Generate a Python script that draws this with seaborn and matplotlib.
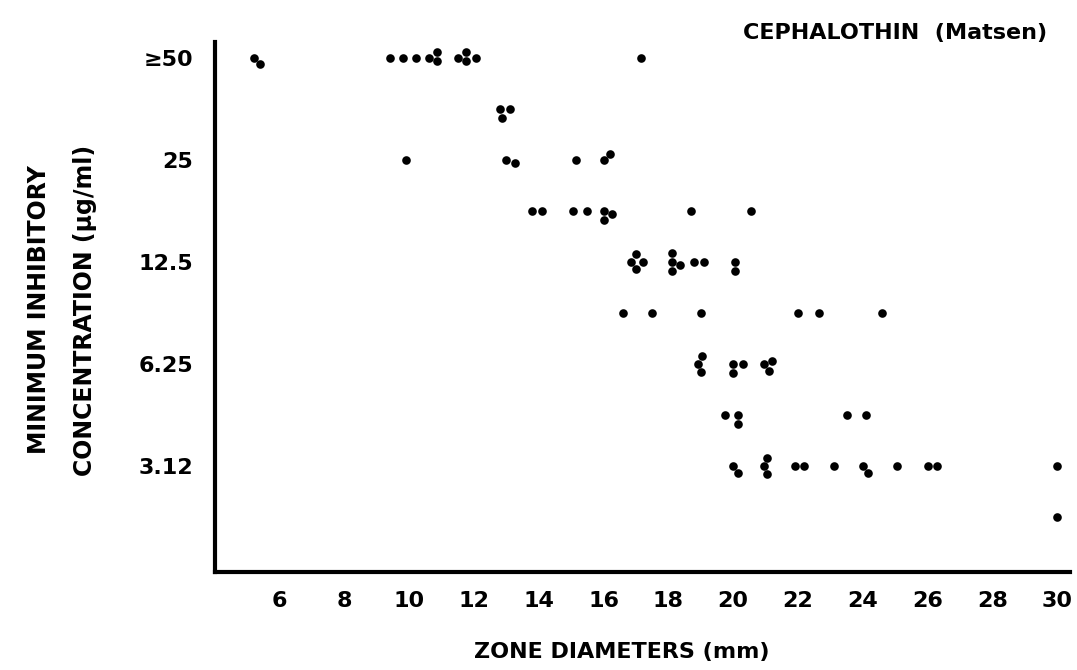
import numpy as np
import pandas as pd
import matplotlib
matplotlib.use("Agg")
import matplotlib.pyplot as plt
import seaborn as sns

# MIC rows (dilution steps, top = highest); only every other row is labelled
row_labels = ["≥50", "", "25", "", "12.5", "", "6.25", "", "3.12", ""]

# zone diameters (mm) of the isolates in each MIC row
zone_r0 = [5.2, 5.4, 9.4, 9.8, 10.2, 10.6, 10.85, 10.85, 11.5, 11.75, 11.75, 12.05, 17.15]
zone_r1 = [12.8, 12.85, 13.1]
zone_r2 = [9.9, 13.0, 13.25, 15.15, 16.0, 16.2]
zone_r3 = [13.8, 14.1, 15.05, 15.5, 16.0, 16.0, 16.25, 18.7, 20.55]
zone_r4 = [16.85, 17.0, 17.0, 17.2, 18.1, 18.1, 18.1, 18.35, 18.8, 19.1, 20.05, 20.05]
zone_r5 = [16.6, 17.5, 19.0, 22.0, 22.65, 24.6]
zone_r6 = [18.9, 19.0, 19.05, 20.0, 20.0, 20.3, 20.95, 21.1, 21.2]
zone_r7 = [19.75, 20.15, 20.15, 23.5, 24.1]
zone_r8 = [20.0, 20.15, 20.95, 21.05, 21.05, 21.9, 22.2, 23.1, 24.0, 24.15, 25.05, 26.0, 26.3, 30.0]
zone_r9 = [30.0]

x_ticks = [6, 8, 10, 12, 14, 16, 18, 20, 22, 24, 26, 28, 30]

title_text = "CEPHALOTHIN  (Matsen)"
x_title = "ZONE DIAMETERS (mm)"
y_title = "MINIMUM INHIBITORY\nCONCENTRATION (µg/ml)"

rows = [zone_r0, zone_r1, zone_r2, zone_r3, zone_r4, zone_r5, zone_r6, zone_r7, zone_r8, zone_r9]
df = pd.DataFrame({
    "zone": [z for r in rows for z in r],
    "row": [i for i, r in enumerate(rows) for _ in r],
})

sns.set_theme(style="white")
plt.rcParams["font.family"] = ["DejaVu Sans"]
plt.rcParams["font.weight"] = "bold"
for key in ["text.color", "axes.labelcolor", "xtick.color", "ytick.color"]:
    plt.rcParams[key] = "black"

fig = plt.figure(figsize=(10.77, 6.70), dpi=100)
ax = fig.add_axes([215 / 1077, 1 - 572 / 670, (1070 - 215) / 1077, (572 - 42) / 670])

sns.swarmplot(data=df, x="zone", y="row", orient="y", order=list(range(10)),
              color="black", size=6.2, linewidth=0, ax=ax)

ax.set_xlim(4.0, 30.4)
ax.set_ylim(10.08, -0.31)

ax.set_xticks(x_ticks)
ax.set_xticklabels([str(t) for t in x_ticks], fontsize=16, fontweight="bold")
ax.set_yticks(range(0, 10, 2))
ax.set_yticklabels(row_labels[0::2], fontsize=16, fontweight="bold")
ax.tick_params(axis="both", length=0, colors="black")
ax.tick_params(axis="x", pad=14)
ax.tick_params(axis="y", pad=16)

for s in ["top", "right"]:
    ax.spines[s].set_visible(False)
for s in ["left", "bottom"]:
    ax.spines[s].set_linewidth(3.0)
    ax.spines[s].set_color("black")

ax.set_xlabel(x_title, fontsize=16, fontweight="bold", color="black")
ax.xaxis.set_label_coords((622 - 215) / (1070 - 215), -(652 - 572) / (572 - 42))
ax.xaxis.label.set_va("center")
ax.set_ylabel(y_title, fontsize=17, fontweight="bold", linespacing=2.2, color="black")
ax.yaxis.set_label_coords(-(215 - 62) / (1070 - 215), (572 - 310) / (572 - 42))
ax.yaxis.label.set_va("center")

fig.text(1047 / 1077, 1 - 33 / 670, title_text, ha="right", va="center",
         fontsize=16, fontweight="bold", color="black")

fig.savefig("out.png", dpi=100, facecolor="white")
